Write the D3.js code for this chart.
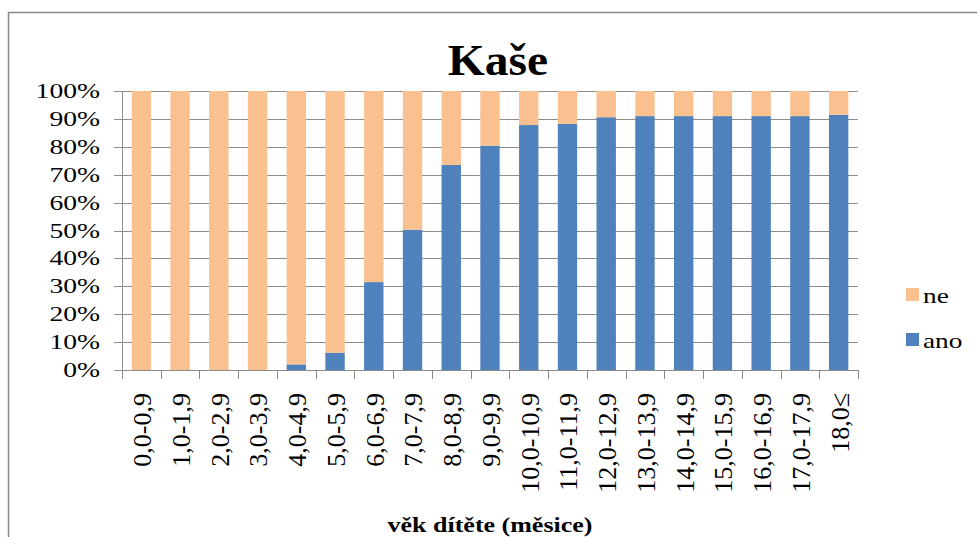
<!DOCTYPE html>
<html lang="cs">
<head>
<meta charset="UTF-8">
<title>Kaše</title>
<style>
  body { margin: 0; background: #fff; }
  svg text { font-family: "Liberation Serif", "Times New Roman", serif; fill: #000; }
</style>
</head>
<body>
<svg id="chart" width="977" height="537"></svg>
<script src="https://d3js.org/d3.v7.min.js"></script>
<script>
// data
var categories = ["0,0-0,9", "1,0-1,9", "2,0-2,9", "3,0-3,9", "4,0-4,9", "5,0-5,9", "6,0-6,9",
                  "7,0-7,9", "8,0-8,9", "9,0-9,9", "10,0-10,9", "11,0-11,9", "12,0-12,9",
                  "13,0-13,9", "14,0-14,9", "15,0-15,9", "16,0-16,9", "17,0-17,9", "18,0≤"]
var ano = [0, 0, 0, 0, 2, 6.2, 31.5, 50.3, 73.5, 80.4, 87.8, 88.2, 90.6, 91, 91, 91, 91, 91, 91.5]
var ne = ano.map(function (v) { return 100 - v })
var yTicks = [0, 10, 20, 30, 40, 50, 60, 70, 80, 90, 100]
var seriesNames = ["ano", "ne"]
var seriesColors = ["#4F81BD", "#FAC090"]

var svg = d3.select("#chart")
var plotLeft = 122, plotRight = 858, plotTop = 91, plotBottom = 370

// outer chart border
svg.append("rect")
  .attr("x", 8.5).attr("y", 12.5)
  .attr("width", 1000).attr("height", 600)
  .attr("fill", "none").attr("stroke", "#888").attr("stroke-width", 1.5)

var x = d3.scaleBand().domain(categories).range([plotLeft, plotRight]).paddingInner(0.5).paddingOuter(0.25)
var xEdges = d3.scaleLinear().domain([0, categories.length]).range([plotLeft, plotRight])
var y = d3.scaleLinear().domain([0, 100]).range([plotBottom, plotTop])

// gridlines
svg.selectAll(".grid")
  .data(yTicks)
  .enter().append("line")
  .attr("x1", plotLeft - 8).attr("x2", plotRight)
  .attr("y1", function (d) { return Math.round(y(d)) + 0.5 })
  .attr("y2", function (d) { return Math.round(y(d)) + 0.5 })
  .attr("stroke", "#8c8c8c").attr("stroke-width", 1)

// y axis line
svg.append("line")
  .attr("x1", plotLeft + 0.5).attr("x2", plotLeft + 0.5)
  .attr("y1", plotTop).attr("y2", plotBottom)
  .attr("stroke", "#8c8c8c")

// x axis ticks between categories
svg.selectAll(".xtick")
  .data(d3.range(categories.length + 1))
  .enter().append("line")
  .attr("x1", function (d) { return Math.round(xEdges(d)) + 0.5 })
  .attr("x2", function (d) { return Math.round(xEdges(d)) + 0.5 })
  .attr("y1", plotBottom).attr("y2", plotBottom + 9)
  .attr("stroke", "#8c8c8c")

// stacked bars
var rows = categories.map(function (c, i) { return { cat: c, ano: ano[i], ne: ne[i] } })
var stack = d3.stack().keys(seriesNames)(rows)
var color = d3.scaleOrdinal().domain(seriesNames).range(seriesColors)

svg.selectAll(".series")
  .data(stack)
  .enter().append("g")
  .attr("fill", function (d) { return color(d.key) })
  .selectAll("rect")
  .data(function (d) { return d })
  .enter().append("rect")
  .attr("x", function (d) { return x(d.data.cat) })
  .attr("width", x.bandwidth())
  .attr("y", function (d) { return y(d[1]) })
  .attr("height", function (d) { return y(d[0]) - y(d[1]) })

// y labels
svg.selectAll(".ylab")
  .data(yTicks)
  .enter().append("text")
  .attr("transform", function (d) { return "translate(100," + (y(d) + 7) + ") scale(1.38,1)" })
  .attr("text-anchor", "end")
  .style("font-size", "20px")
  .text(function (d) { return d + "%" })

// x labels
svg.selectAll(".xlab")
  .data(categories)
  .enter().append("text")
  .attr("transform", function (d) { return "translate(" + (x(d) + x.bandwidth() / 2) + ",393) rotate(-90)" })
  .attr("text-anchor", "end")
  .attr("dy", "0.38em")
  .style("font-size", "26px")
  .text(function (d) { return d })

// title
svg.append("text")
  .attr("transform", "translate(498,75) scale(1.08,1)")
  .attr("text-anchor", "middle")
  .style("font-size", "44px").style("font-weight", "bold")
  .text("Kaše")

// x axis title
svg.append("text")
  .attr("transform", "translate(490,532) scale(1.3,1)")
  .attr("text-anchor", "middle")
  .style("font-size", "20px").style("font-weight", "bold")
  .text("věk dítěte (měsice)")

// legend
var legendKeys = ["ne", "ano"]
svg.selectAll(".legsq")
  .data(legendKeys)
  .enter().append("rect")
  .attr("x", 906)
  .attr("y", function (d, i) { return 288 + i * 45 })
  .attr("width", 13).attr("height", 13)
  .attr("fill", function (d) { return color(d) })

svg.selectAll(".legtx")
  .data(legendKeys)
  .enter().append("text")
  .attr("transform", function (d, i) { return "translate(923," + (303 + i * 45) + ") scale(1.3,1)" })
  .style("font-size", "21px")
  .text(function (d) { return d })
</script>
</body>
</html>
